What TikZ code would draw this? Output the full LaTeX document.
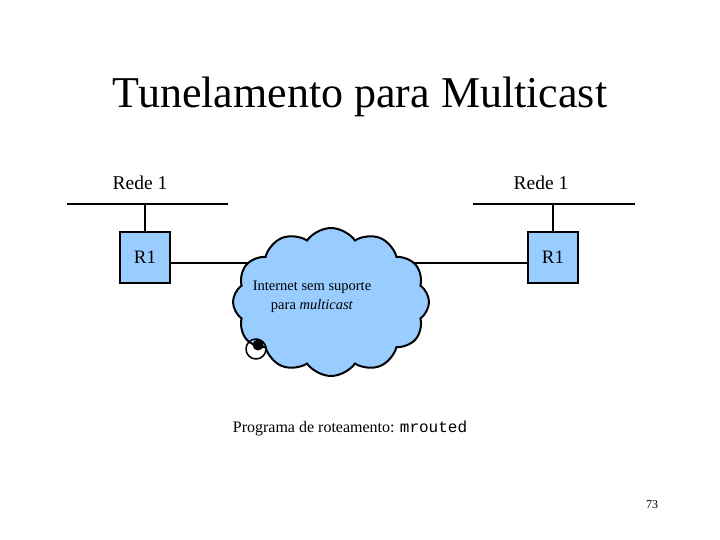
\documentclass[tikz,border=0pt]{standalone}
\usepackage{fontspec}
\setmainfont{Liberation Serif}
\setmonofont{Liberation Mono}
\usetikzlibrary{shapes.symbols}
\definecolor{cloudblue}{RGB}{153,204,255}
\definecolor{boxblue}{RGB}{153,204,255}
\begin{document}
\begin{tikzpicture}[x=1pt,y=-1pt,
  net/.style={line width=2.4pt},
  router/.style={draw,line width=1.5pt,fill=boxblue,minimum width=50pt,minimum height=51pt,inner sep=0pt,font=\fontsize{19}{21}\selectfont},
  lbl/.style={font=\fontsize{19.5}{21}\selectfont,inner sep=0pt}]
\useasboundingbox (0,0) rectangle (720,540);
\node[font=\fontsize{44}{48}\selectfont,inner sep=0pt] (title) at (360,97) {Tunelamento para Multicast};
\node[lbl] (rl) at (140,183) {Rede 1};
\node[lbl] (rr) at (541,183) {Rede 1};
\coordinate (l1) at (67,204); \coordinate (l2) at (228,204);
\coordinate (r1) at (473,204); \coordinate (r2) at (635,204);
\draw[net] (l1) -- (l2);
\draw[net] (r1) -- (r2);
\coordinate (lt) at (145,204); \coordinate (rt) at (553,204);
\node[router] (R1a) at (145,257.5) {R1};
\node[router] (R1b) at (553,257.5) {R1};
\draw[net] (lt) -- (R1a.north);
\draw[net] (rt) -- (R1b.north);
\coordinate (cc) at (331,302);
\draw[net] (R1a.east |- 0,263) -- (cc |- 0,263);
\draw[net] (R1b.west |- 0,263) -- (cc |- 0,263);
\node[cloud,cloud puffs=12,cloud puff arc=110,aspect=1.3,draw,line width=2pt,fill=cloudblue,minimum width=196pt,minimum height=148pt,inner sep=0pt] (cloud) at (cc) {};
\node[align=center,font=\fontsize{14.5}{19}\selectfont,inner sep=0pt] (ctext) at (312,297) {Internet sem suporte\\para \textit{multicast}};
\node[circle,draw,line width=1.5pt,minimum size=20pt,inner sep=0pt] (c1) at (256,349) {};
\node[circle,fill=black,minimum size=11pt,inner sep=0pt] (c2) at (258,345) {};
\node[lbl,font=\fontsize{16}{18}\selectfont] (prog) at (350,428) {Programa de roteamento: \texttt{mrouted}};
\node[font=\fontsize{12}{14}\selectfont,inner sep=0pt] (pg) at (652,505) {73};
\end{tikzpicture}
\end{document}
